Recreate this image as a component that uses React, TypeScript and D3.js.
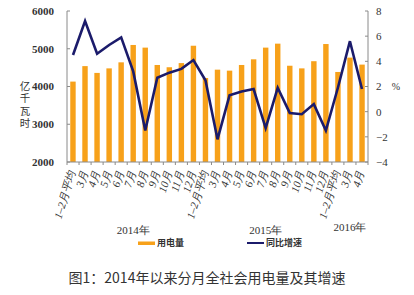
import React from "react";
import * as d3 from "d3";

const categories = [
  "1–2月平均", "3月", "4月", "5月", "6月", "7月", "8月", "9月", "10月", "11月", "12月",
  "1–2月平均", "3月", "4月", "5月", "6月", "7月", "8月", "9月", "10月", "11月", "12月",
  "1–2月平均", "3月", "4月",
];
const consumption = [
  4130, 4540, 4360, 4480, 4640, 5100, 5030, 4570, 4510, 4620, 5080,
  4225, 4446, 4420, 4570, 4720, 5030, 5135, 4550, 4480, 4670, 5125,
  4385, 4765, 4580,
];
const growth = [
  4.5, 7.2, 4.6, 5.3, 5.9, 3.2, -1.5, 2.7, 3.1, 3.4, 4.1,
  2.5, -2.2, 1.3, 1.6, 1.8, -1.3, 1.9, -0.1, -0.2, 0.6, -1.5,
  1.9, 5.6, 1.8,
];
const leftTicks = [2000, 3000, 4000, 5000, 6000];
const rightTicks = [-4, -2, 0, 2, 4, 6, 8];
const years = [
  { label: "2014年", from: 0, to: 10 },
  { label: "2015年", from: 11, to: 21 },
  { label: "2016年", from: 22, to: 24 },
];

export default function App() {
  const W = 414, H = 295;
  const left = 67, right = 368, top = 11, bottom = 162;
  const x = d3.scaleBand<number>().domain(d3.range(categories.length)).range([left, right]).paddingInner(0.55).paddingOuter(0.27);
  const xb = d3.scaleLinear().domain([0, categories.length]).range([left, right]);
  const yL = d3.scaleLinear().domain([2000, 6000]).range([bottom, top]);
  const yR = d3.scaleLinear().domain([-4, 8]).range([bottom, top]);
  const cx = (i: number) => xb(i + 0.5);
  const line = d3.line<number>().x((_, i) => cx(i)).y((d) => yR(d));
  const axisColor = "#8a8a8a";
  const serif = "'Liberation Serif', 'DejaVu Serif', serif";
  const cjk = "'Noto Sans CJK SC', sans-serif";

  return (
    <svg width={W} height={H} style={{ position: "absolute", left: 0, top: 0, background: "#fff" }}>
      {consumption.map((v, i) => (
        <rect key={i} x={x(i)} y={yL(v)} width={x.bandwidth()} height={yL(2000) - yL(v)} fill="#F7A11A" />
      ))}
      <path d={line(growth) || ""} fill="none" stroke="#1B1B6B" strokeWidth={2.6} strokeLinejoin="miter" />
      <line x1={left} x2={left} y1={top} y2={bottom} stroke={axisColor} />
      <line x1={right} x2={right} y1={top} y2={bottom} stroke={axisColor} />
      <line x1={left} x2={right} y1={bottom} y2={bottom} stroke={axisColor} />
      {leftTicks.map((t) => (
        <g key={"l" + t}>
          <line x1={left} x2={left + 3} y1={yL(t)} y2={yL(t)} stroke={axisColor} />
          <text x={left - 13} y={yL(t)} dy="0.35em" textAnchor="end" fontFamily={serif} fontWeight="bold" fontSize={11} fill="#333">{t}</text>
        </g>
      ))}
      {rightTicks.map((t) => (
        <g key={"r" + t}>
          <line x1={right - 3} x2={right} y1={yR(t)} y2={yR(t)} stroke={axisColor} />
          <text x={right + 8} y={yR(t)} dy="0.35em" textAnchor="start" fontFamily={serif} fontSize={11} fill="#333">{t < 0 ? "−" + Math.abs(t) : t}</text>
        </g>
      ))}
      {d3.range(categories.length + 1).map((i) => (
        <line key={"xt" + i} x1={xb(i)} x2={xb(i)} y1={bottom} y2={bottom + 3} stroke={axisColor} />
      ))}
      {categories.map((c, i) => (
        <text key={"xl" + i} transform={`translate(${cx(i) - 1},${bottom + 9}) rotate(-73)`} textAnchor="end" dy="0.35em" fontFamily={serif} fontStyle="italic" fontSize={11} fill="#333">{c}</text>
      ))}
      <text x={25} y={yL(4000) - 6} style={{ writingMode: "vertical-rl" }} letterSpacing={2} fontFamily={cjk} fontSize={10.5} fill="#333">亿千瓦时</text>
      <text x={396} y={yR(2)} dy="0.35em" textAnchor="middle" fontFamily={serif} fontSize={10} fill="#333">%</text>
      {years.map((yv) => (
        <text key={yv.label} x={(cx(yv.from) + cx(yv.to)) / 2} y={yv.label === "2016年" ? 231 : 234} textAnchor="middle" fontFamily={serif} fontSize={11} fill="#333">{yv.label}</text>
      ))}
      <rect x={138} y={241.5} width={17} height={3.5} fill="#F7A11A" />
      <text x={157} y={243} dy="0.35em" fontFamily={cjk} fontWeight="bold" fontSize={9} fill="#333">用电量</text>
      <line x1={247} x2={264} y1={243} y2={243} stroke="#1B1B6B" strokeWidth={2} />
      <text x={266} y={243} dy="0.35em" fontFamily={cjk} fontWeight="bold" fontSize={9} fill="#333">同比增速</text>
      <text x={207} y={283} textAnchor="middle" fontFamily={cjk} fontSize={14} fill="#333">图1：2014年以来分月全社会用电量及其增速</text>
    </svg>
  );
}
